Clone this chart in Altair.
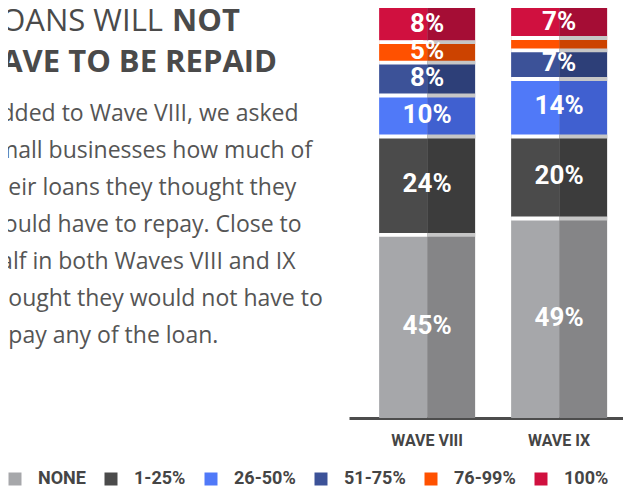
import altair as alt
import pandas as pd

# ---------------- data ----------------
waves = ["WAVE VIII", "WAVE IX"]
categories = ["NONE", "1-25%", "26-50%", "51-75%", "76-99%", "100%"]
wave8_values = [45, 24, 10, 8, 5, 8]
wave9_values = [49, 20, 14, 7, 3, 7]
light_colors = ["#a6a7aa", "#4b4b4b", "#5079f8", "#3c5298", "#ff5100", "#d0103f"]
dark_colors = ["#858587", "#3c3c3c", "#4060d0", "#2d3f78", "#cc4300", "#a50d35"]

title_regular = "LOANS WILL"
title_bold_1 = "NOT"
title_bold_2 = "HAVE TO BE REPAID"
body_lines = [
    "Added to Wave VIII, we asked",
    "small businesses how much of",
    "their loans they thought they",
    "would have to repay. Close to",
    "half in both Waves VIII and IX",
    "thought they would not have to",
    "repay any of the loan.",
]

COND = "Roboto, 'Noto Sans', sans-serif"
BODY = "'Open Sans', 'Noto Sans', sans-serif"

# ---------------- tables ----------------
rows, seps = [], []
for wave, vals in zip(waves, [wave8_values, wave9_values]):
    cum = 0
    for i, (cat, v) in enumerate(zip(categories, vals)):
        rows.append(dict(wave=wave, cat=cat, value=v, y0=cum, y1=cum + v,
                         mid=cum + v / 2, label=f"{v}%"))
        cum += v
        if i < len(vals) - 1:
            seps.append(dict(wave=wave, half="L", b0=cum - 0.8, b1=cum + 0.15, col="#ffffff"))
            seps.append(dict(wave=wave, half="R", b0=cum - 0.8, b1=cum + 0.15, col="#c6c6c6"))
seg = pd.DataFrame(rows)
left = seg.assign(half="L")
right = seg.assign(half="R")
sep = pd.DataFrame(seps)

x_enc = alt.X(
    "wave:N", sort=waves, title=None,
    scale=alt.Scale(paddingInner=0.2727, paddingOuter=0.1742, align=0.655),
    axis=alt.Axis(labelAngle=0, ticks=False, domainColor="#4d4d4d", domainWidth=3,
                  labelFont=COND, labelFontSize=16, labelFontWeight="bold",
                  labelColor="#454545", labelPadding=14, grid=False),
)
xoff = alt.XOffset("half:N", scale=alt.Scale(domain=["L", "R"], paddingInner=0, paddingOuter=0))
y_scale = alt.Scale(domain=[0, 100], nice=False, zero=True)

left_bars = alt.Chart(left).mark_bar(strokeWidth=0).encode(
    x=x_enc, xOffset=xoff,
    y=alt.Y("y0:Q", scale=y_scale, axis=None), y2="y1:Q",
    color=alt.Color(
        "cat:N", scale=alt.Scale(domain=categories, range=light_colors),
        legend=alt.Legend(
            title=None, orient="none", legendX=-343, legendY=462, direction="horizontal",
            columns=6, symbolType="square", symbolSize=169, symbolStrokeWidth=0,
            labelFont=COND, labelFontSize=18, labelFontWeight="bold", labelColor="#454545",
            labelOffset=14, columnPadding=16,
        ),
    ),
)
right_bars = alt.Chart(right).mark_bar(strokeWidth=0).encode(
    x=x_enc, xOffset=xoff,
    y=alt.Y("y0:Q", scale=y_scale, axis=None), y2="y1:Q",
    color=alt.Color("cat:N", scale=alt.Scale(domain=categories, range=dark_colors), legend=None),
)
separators = alt.Chart(sep).mark_bar(strokeWidth=0).encode(
    x=x_enc, xOffset=xoff,
    y=alt.Y("b0:Q", scale=y_scale, axis=None), y2="b1:Q",
    color=alt.Color("col:N", scale=None),
)
labels = alt.Chart(seg).transform_filter("datum.value >= 5").mark_text(
    font=COND, fontSize=26, fontWeight="bold", color="white", baseline="middle"
).encode(
    x=x_enc, y=alt.Y("mid:Q", scale=y_scale, axis=None), text="label:N"
)

t1 = alt.Chart(pd.DataFrame({"t": [title_regular]})).mark_text(
    align="right", baseline="alphabetic", font=BODY, fontSize=31, color="#4a4a4a"
).encode(x=alt.value(-186), y=alt.value(23), text="t:N")
t2 = alt.Chart(pd.DataFrame({"t": [title_bold_1]})).mark_text(
    align="left", baseline="alphabetic", font=BODY, fontSize=31, fontWeight="bold", color="#4a4a4a"
).encode(x=alt.value(-177), y=alt.value(23), text="t:N")
t3 = alt.Chart(pd.DataFrame({"t": [title_bold_2]})).mark_text(
    align="right", baseline="alphabetic", font=BODY, fontSize=31, fontWeight="bold", color="#4a4a4a"
).encode(x=alt.value(-72), y=alt.value(64), text="t:N")
body = alt.Chart(pd.DataFrame({"t": [0]})).mark_text(
    text=body_lines, lineHeight=37, align="left", baseline="alphabetic",
    font=BODY, fontSize=23, color="#555555"
).encode(x=alt.value(-363), y=alt.value(113))

chart = alt.layer(
    left_bars, right_bars, separators, labels, t1, t2, t3, body
).resolve_scale(color="independent").properties(
    width=274, height=410,
    padding={"left": 341, "top": 0, "right": 0, "bottom": 68},
    autosize=alt.AutoSizeParams(type="none"),
).configure_view(stroke=None)

chart.save("out.html", embed_options={"renderer": "svg", "actions": False})
